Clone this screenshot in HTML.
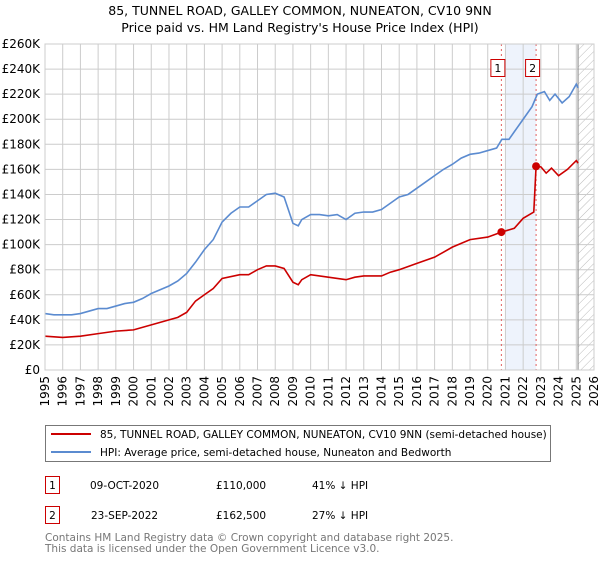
<!DOCTYPE html>
<html><head><meta charset="utf-8"><style>
body{margin:0;background:#fff;font-family:"Liberation Sans","DejaVu Sans",sans-serif;}
svg text{font-family:"DejaVu Sans","Liberation Sans",sans-serif;}
</style></head><body>
<svg id="c" width="600" height="560" xmlns="http://www.w3.org/2000/svg">
<defs><pattern id="hatch" width="6" height="6" patternUnits="userSpaceOnUse" patternTransform="rotate(45)"><line x1="0" y1="0" x2="0" y2="6" stroke="#bbb" stroke-width="1"/></pattern></defs>
<text x="300" y="15" text-anchor="middle" font-size="12.5" fill="#000">85, TUNNEL ROAD, GALLEY COMMON, NUNEATON, CV10 9NN</text>
<text x="300" y="32" text-anchor="middle" font-size="12.5" fill="#000">Price paid vs. HM Land Registry's House Price Index (HPI)</text>
<g id="plot"></g>
<g>
<rect x="45.5" y="425.5" width="505" height="36" fill="#fff" stroke="#777"/>
<line x1="51" y1="434" x2="91" y2="434" stroke="#cc0000" stroke-width="2"/>
<text x="100" y="438" font-size="10.5">85, TUNNEL ROAD, GALLEY COMMON, NUNEATON, CV10 9NN (semi-detached house)</text>
<line x1="51" y1="452" x2="91" y2="452" stroke="#5b8bd0" stroke-width="2"/>
<text x="100" y="456" font-size="10.5">HPI: Average price, semi-detached house, Nuneaton and Bedworth</text>
</g>
<g font-size="10.5">
<rect x="45.5" y="476.5" width="14" height="17" fill="#fff" stroke="#cc0000"/><text x="52.5" y="489" text-anchor="middle">1</text>
<text x="90" y="489">09-OCT-2020</text><text x="216" y="489">£110,000</text><text x="312" y="489">41% ↓ HPI</text>
<rect x="45.5" y="506.5" width="14" height="17" fill="#fff" stroke="#cc0000"/><text x="52.5" y="519" text-anchor="middle">2</text>
<text x="91" y="519">23-SEP-2022</text><text x="216" y="519">£162,500</text><text x="312" y="519">27% ↓ HPI</text>
</g>
<text x="45" y="541" font-size="10.5" fill="#777">Contains HM Land Registry data © Crown copyright and database right 2025.</text>
<text x="45" y="552" font-size="10.5" fill="#777">This data is licensed under the Open Government Licence v3.0.</text>
</svg>
<script>
const yTicks=[0,20,40,60,80,100,120,140,160,180,200,220,240,260];
const xYears=[1995,1996,1997,1998,1999,2000,2001,2002,2003,2004,2005,2006,2007,2008,2009,2010,2011,2012,2013,2014,2015,2016,2017,2018,2019,2020,2021,2022,2023,2024,2025,2026];
const hpiDates=[1995,1995.5,1996,1996.5,1997,1997.5,1998,1998.5,1999,1999.5,2000,2000.5,2001,2001.5,2002,2002.5,2003,2003.5,2004,2004.5,2005,2005.5,2006,2006.5,2007,2007.5,2008,2008.5,2009,2009.3,2009.5,2010,2010.5,2011,2011.5,2012,2012.5,2013,2013.5,2014,2014.5,2015,2015.5,2016,2016.5,2017,2017.5,2018,2018.5,2019,2019.5,2020,2020.5,2020.8,2021.2,2021.5,2022,2022.5,2022.8,2023.2,2023.5,2023.8,2024.2,2024.6,2025,2025.1];
const hpiValues=[45,44,44,44,45,47,49,49,51,53,54,57,61,64,67,71,77,86,96,104,118,125,130,130,135,140,141,138,117,115,120,124,124,123,124,120,125,126,126,128,133,138,140,145,150,155,160,164,169,172,173,175,177,184,184,190,200,210,220,222,215,220,213,218,228,225];
const priceDates=[1995,1996,1997,1998,1999,2000,2001,2002,2002.5,2003,2003.5,2004,2004.5,2005,2006,2006.5,2007,2007.5,2008,2008.5,2009,2009.3,2009.5,2010,2011,2012,2012.5,2013,2014,2014.5,2015,2016,2017,2017.5,2018,2018.5,2019,2020,2020.77,2021.5,2022,2022.6,2022.73,2023,2023.3,2023.6,2024,2024.5,2025,2025.1];
const priceValues=[27,26,27,29,31,32,36,40,42,46,55,60,65,73,76,76,80,83,83,81,70,68,72,76,74,72,74,75,75,78,80,85,90,94,98,101,104,106,110,113,121,126,162.5,162,157,161,155,160,167,165];
const saleDates=[2020.77,2022.73];
const saleValues=[110,162.5];
const saleLabels=["1","2"];
const NS="http://www.w3.org/2000/svg";
const X0=45,X1=594,Y0=370,Y1=44;
const xs=t=>X0+(t-1995)/(2026-1995)*(X1-X0);
const ys=v=>Y0-v/260*(Y0-Y1);
const g=document.getElementById('plot');
function mk(tag,attrs,parent){const e=document.createElementNS(NS,tag);for(const k in attrs)e.setAttribute(k,attrs[k]);(parent||g).appendChild(e);return e;}
let e=mk('rect',{x:xs(2021),y:Y1,width:xs(2022.73)-xs(2021),height:Y0-Y1,fill:'#eef3fc'});


e=mk('rect',{x:xs(2025.1),y:Y1,width:X1-xs(2025.1),height:Y0-Y1,fill:'url(#hatch)'});


yTicks.forEach(v=>{
 let l=mk('line',{x1:X0,x2:X1,y1:ys(v),y2:ys(v),stroke:'#ccc'});
 
 
 let t=mk('text',{x:X0-5,y:ys(v)+4,'text-anchor':'end','font-size':'12'});
 t.textContent=v===0?'£0':'£'+v+'K';
 
 
});
xYears.forEach(y=>{
 let l=mk('line',{x1:xs(y),x2:xs(y),y1:Y1,y2:Y0,stroke:'#ccc'});
 
 
 let t=mk('text',{x:0,y:0,'text-anchor':'end','font-size':'12',transform:`translate(${xs(y)+4},${Y0+6}) rotate(-90)`});
 t.textContent=y;
 
 
});
e=mk('line',{x1:xs(2025.1),x2:xs(2025.1),y1:Y1,y2:Y0,stroke:'#999','stroke-width':1.2});


saleDates.forEach((d,i)=>{
 let l=mk('line',{x1:xs(d),x2:xs(d),y1:Y1,y2:Y0,stroke:'#e06060','stroke-dasharray':'2,3'});
 
 
});
let p=mk('polyline',{points:hpiDates.map((d,i)=>xs(d)+','+ys(hpiValues[i])).join(' '),fill:'none',stroke:'#5b8bd0','stroke-width':1.6});


p=mk('polyline',{points:priceDates.map((d,i)=>xs(d)+','+ys(priceValues[i])).join(' '),fill:'none',stroke:'#cc0000','stroke-width':1.6});


saleDates.forEach((d,i)=>{
 let c=mk('circle',{cx:xs(d),cy:ys(saleValues[i]),r:4,fill:'#cc0000'});
 
 
 let r=mk('rect',{x:xs(d)-10.5,y:59.5,width:14,height:17,fill:'#fff',stroke:'#cc0000'});
 
 
 let t=mk('text',{x:xs(d)-3.5,y:72,'text-anchor':'middle','font-size':'11'});
 t.textContent=saleLabels[i];
 
 
});
e=mk('rect',{x:X0,y:Y1,width:X1-X0,height:Y0-Y1,fill:'none',stroke:'#ccc'});


</script>
</body></html>
